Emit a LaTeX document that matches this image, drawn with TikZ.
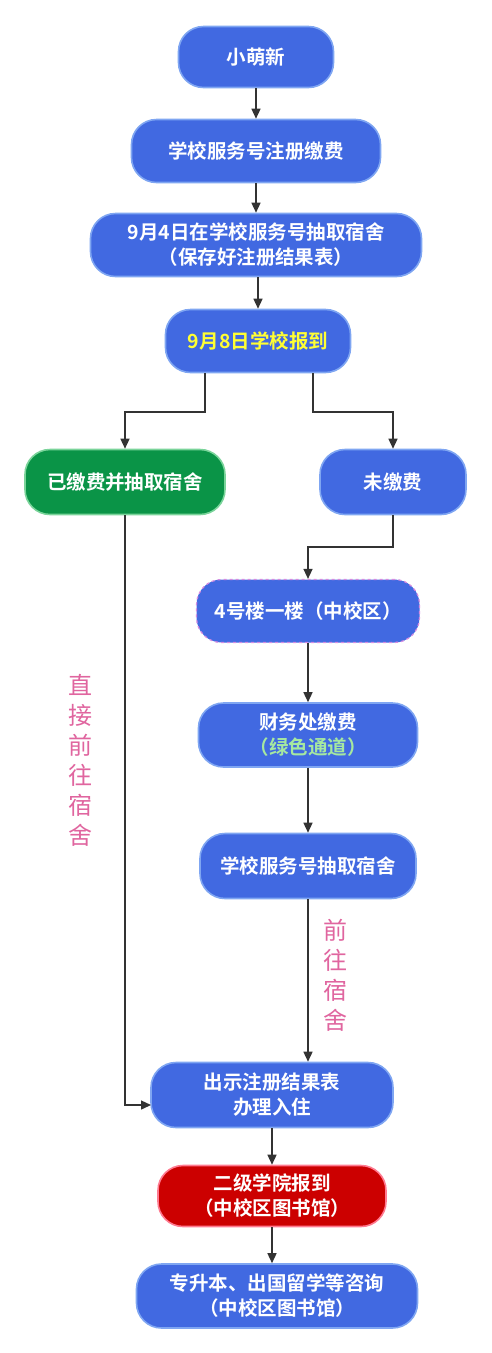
\documentclass[tikz,border=0pt]{standalone}
\usepackage{fontspec}
\setmainfont{Noto Sans CJK SC}
\newfontfamily\cjkb{Noto Sans CJK SC Bold}
\newfontfamily\cjkr{Noto Sans CJK SC}
\usetikzlibrary{arrows.meta}
\definecolor{boxblue}{HTML}{4169E1}
\definecolor{boxedge}{HTML}{7FA6F2}
\definecolor{boxgreen}{HTML}{0A9447}
\definecolor{greenedge}{HTML}{7AD49A}
\definecolor{boxred}{HTML}{CC0000}
\definecolor{rededge}{HTML}{FF7A90}
\definecolor{lineg}{HTML}{333333}
\definecolor{pinktxt}{HTML}{E0659F}
\definecolor{yellowtxt}{HTML}{FFFF33}
\definecolor{lgreentxt}{HTML}{A6E8A0}
\definecolor{dashedge}{HTML}{D58BE0}
\begin{document}
\begin{tikzpicture}[x=1pt,y=-1pt,
  flowbox/.style={rectangle, rounded corners=25pt, fill=boxblue, draw=boxedge, line width=1.6pt,
    text=white, font=\cjkb\fontsize{19.5}{25}\selectfont, align=center, inner sep=0pt},
  conn/.style={draw=lineg, line width=1.4pt, -{Triangle[length=10pt,width=9pt]}},
  vlabel/.style={text=pinktxt, font=\cjkr\fontsize{24}{30}\selectfont, align=center, inner sep=0pt}
]
\path[fill=white] (0,0) rectangle (491,1353);
\useasboundingbox (0,0) rectangle (491,1353);

\node[flowbox, minimum width=155pt, minimum height=61pt] (n1) at (256,57) {小萌新};
\node[flowbox, minimum width=249pt, minimum height=63pt] (n2) at (256,151) {学校服务号注册缴费};
\node[flowbox, minimum width=331pt, minimum height=63pt] (n3) at (256,245) {9月4日在学校服务号抽取宿舍\\（保存好注册结果表）};
\node[flowbox, minimum width=185pt, minimum height=63pt, text=yellowtxt] (n4) at (258,341) {9月8日学校报到};
\node[flowbox, minimum width=200pt, minimum height=65pt, fill=boxgreen, draw=greenedge] (n5) at (125,482) {已缴费并抽取宿舍};
\node[flowbox, minimum width=146pt, minimum height=65pt] (n6) at (393,482) {未缴费};
\node[flowbox, minimum width=223pt, minimum height=63pt, draw=dashedge, dashed, line width=1.2pt] (n7) at (308,611) {4号楼一楼（中校区）};
\node[flowbox, minimum width=219pt, minimum height=64pt] (n8) at (308,735) {财务处缴费\\\textcolor{lgreentxt}{（绿色通道）}};
\node[flowbox, minimum width=216pt, minimum height=65pt] (n9) at (308,866) {学校服务号抽取宿舍};
\node[flowbox, minimum width=242pt, minimum height=65pt] (n10) at (272,1095) {出示注册结果表\\办理入住};
\node[flowbox, minimum width=228pt, minimum height=61pt, fill=boxred, draw=rededge] (n11) at (272,1196) {二级学院报到\\（中校区图书馆）};
\node[flowbox, minimum width=281pt, minimum height=64pt] (n12) at (277,1296) {专升本、出国留学等咨询\\（中校区图书馆）};

\node[vlabel] (l1) at (80,760) {直\\接\\前\\往\\宿\\舍};
\node[vlabel] (l2) at (335,975) {前\\往\\宿\\舍};

\coordinate (s4l) at (205,373);
\coordinate (s4r) at (313,373);
\coordinate (s10l) at (151,1105);

\draw[conn] (n1) -- (n2);
\draw[conn] (n2) -- (n3);
\draw[conn] (n3.south -| n4) -- (n4);
\draw[conn] (s4l) -- (205,412) -| (n5.north);
\draw[conn] (s4r) -- (313,412) -| (n6.north);
\draw[conn] (n6.south) -- (393,547) -| (n7.north);
\draw[conn] (n7) -- (n8);
\draw[conn] (n8) -- (n9);
\draw[conn] (n9.south) -- (n9.south |- n10.north);
\draw[conn] (n5.south) |- (s10l);
\draw[conn] (n10) -- (n11);
\draw[conn] (n11.south) -- (n11.south |- n12.north);
\end{tikzpicture}
\end{document}
